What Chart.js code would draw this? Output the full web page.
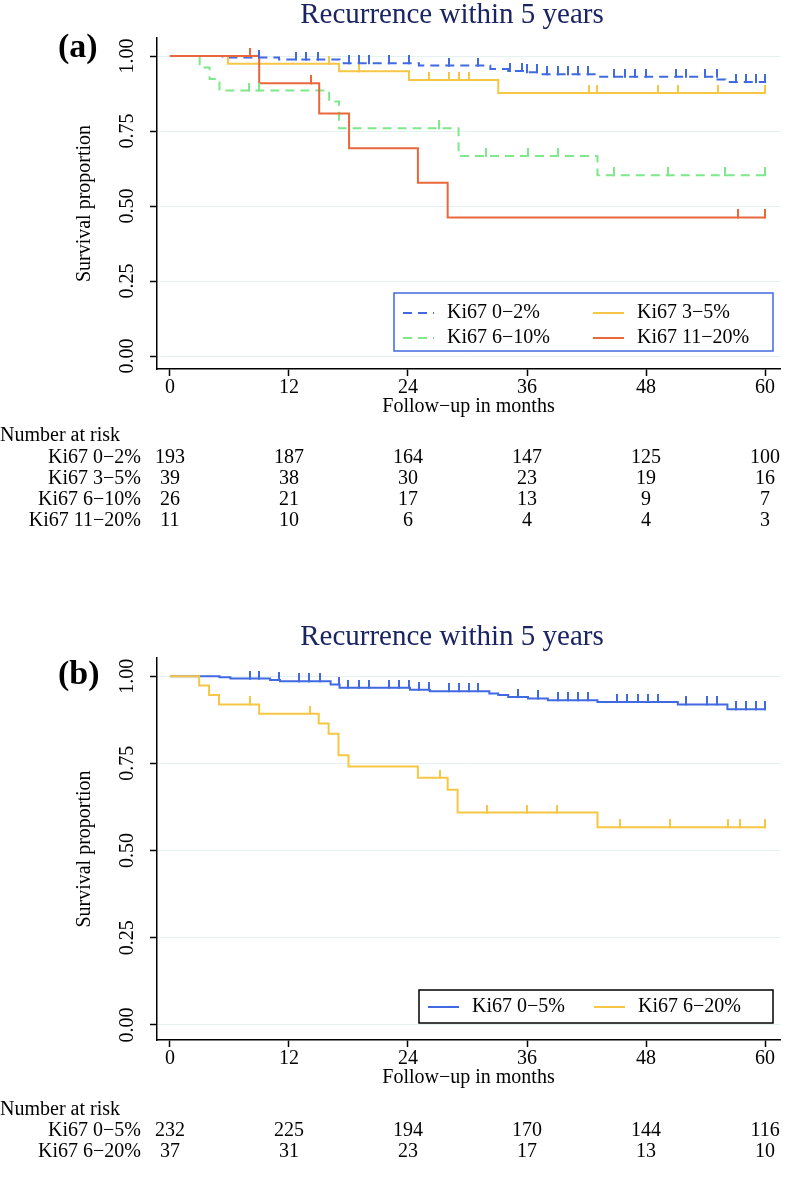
<!DOCTYPE html>
<html>
<head>
<meta charset="utf-8">
<script src="https://cdn.jsdelivr.net/npm/chart.js@4.4.1/dist/chart.umd.min.js"></script>
<style>
  html, body { margin: 0; padding: 0; background: #fff; }
  canvas { position: absolute; left: 0; }
  #chartA { top: 0; }
  #chartB { top: 590px; }
</style>
</head>
<body>
<canvas id="chartA" width="786" height="560"></canvas>
<canvas id="chartB" width="786" height="601"></canvas>
<script>
// ---------------------------------------------------------------
// datos (meses, supervivencia)
// ---------------------------------------------------------------
var xTicks = [0, 12, 24, 36, 48, 60];
var yTicks = [0, 0.25, 0.5, 0.75, 1];

// panel (a)
var a02Time = [0, 5.3, 11.0, 17.1, 25.1, 32.3, 34.1, 35.8, 37.3, 43.0, 55.2, 56.0, 60];
var a02Surv = [1, 0.995, 0.988, 0.976, 0.968, 0.957, 0.950, 0.946, 0.939, 0.931, 0.922, 0.913, 0.913];
var a02Cens = [9.0, 12.7, 13.7, 14.9, 18.1, 19.1, 20.1, 22.1, 24.1, 28.1, 31.1, 34.3, 35.5, 36.0, 37.0, 38.0,
               39.1, 40.1, 41.1, 42.1, 44.8, 45.9, 46.9, 48.0, 51.0, 52.0, 53.9, 55.1, 57.1, 58.1, 59.1, 60];

var a35Time = [0, 5.85, 17.05, 24.1, 33.1, 60];
var a35Surv = [1, 0.974, 0.949, 0.920, 0.877, 0.877];
var a35Cens = [16.0, 19.1, 26.1, 28.1, 29.1, 30.1, 42.2, 43.1, 49.2, 51.2, 55.3, 60];

var a610Time = [0, 3.0, 4.0, 5.0, 16.05, 17.05, 29.1, 43.1, 60];
var a610Surv = [1, 0.962, 0.923, 0.885, 0.848, 0.759, 0.667, 0.603, 0.603];
var a610Cens = [8.0, 9.0, 27.1, 31.9, 36.1, 39.1, 44.8, 50.2, 56.0, 60];

var a1120Time = [0, 9.0, 15.05, 18.06, 25.0, 28.0, 60];
var a1120Surv = [1, 0.909, 0.808, 0.693, 0.578, 0.462, 0.462];
var a1120Cens = [8.1, 14.2, 57.3, 60];

// panel (b)
var b05Time = [0, 5.0, 6.1, 10.1, 11.1, 16.2, 17.1, 24.2, 26.2, 32.2, 33.1, 34.1, 36.1, 38.1, 43.1, 51.2, 56.2, 60];
var b05Surv = [1, 0.997, 0.993, 0.989, 0.985, 0.976, 0.967, 0.961, 0.957, 0.950, 0.946, 0.940, 0.936, 0.931, 0.926, 0.919, 0.905, 0.905];
var b05Cens = [8.1, 9.0, 11.0, 13.0, 14.0, 15.1, 17.0, 18.0, 19.1, 20.1, 22.1, 23.1, 24.1, 25.1, 26.1, 28.1, 29.1,
               30.1, 31.1, 35.1, 37.1, 39.1, 40.1, 41.1, 42.1, 45.1, 46.1, 47.2, 48.2, 49.2, 52.0, 54.1, 55.1,
               57.1, 58.1, 59.1, 60];

var b620Time = [0, 2.95, 3.95, 4.95, 9.0, 15.0, 16.0, 17.0, 18.0, 25.0, 28.0, 29.0, 43.1, 60];
var b620Surv = [1, 0.973, 0.946, 0.919, 0.892, 0.864, 0.835, 0.773, 0.741, 0.709, 0.674, 0.609, 0.567, 0.567];
var b620Cens = [8.1, 14.1, 27.2, 32.0, 36.0, 39.0, 45.4, 50.4, 56.3, 57.5, 60];

// numero en riesgo
var riskA02 = [193, 187, 164, 147, 125, 100];
var riskA35 = [39, 38, 30, 23, 19, 16];
var riskA610 = [26, 21, 17, 13, 9, 7];
var riskA1120 = [11, 10, 6, 4, 4, 3];
var riskB05 = [232, 225, 194, 170, 144, 116];
var riskB620 = [37, 31, 23, 17, 13, 10];

// ---------------------------------------------------------------
// estilos
// ---------------------------------------------------------------
var SERIF = '"Liberation Serif", "Times New Roman", serif';
var font20 = { family: SERIF, size: 20 };
var AZUL = '#4169e1', AMARILLO = '#f6c744', VERDE = '#7ee88b', NARANJA = '#e8683b';
var NAVY = '#1b2463';
Chart.defaults.font.family = SERIF;

// marca de censura: tick vertical hacia arriba
function marcaCensura(color) {
  var c = document.createElement('canvas');
  c.width = 2; c.height = 16;
  var g = c.getContext('2d');
  g.fillStyle = color;
  g.fillRect(0, 0, 2, 9);
  return c;
}

function nivelEn(times, surv, t) {
  var v = surv[0];
  for (var i = 0; i < times.length; i++) if (times[i] <= t) v = surv[i];
  return v;
}

// orden: numero mas bajo se dibuja encima
function serieKM(label, times, surv, color, dash, orden) {
  return {
    label: label, order: orden,
    data: times.map(function (t, i) { return { x: t, y: surv[i] }; }),
    borderColor: color, borderWidth: 2, borderDash: dash || [],
    stepped: true, pointRadius: 0, fill: false
  };
}

function serieCensura(times, surv, cens, color) {
  return {
    label: '', esCensura: true, order: 0,
    data: cens.map(function (t) { return { x: t, y: nivelEn(times, surv, t) }; }),
    showLine: false, pointStyle: marcaCensura(color), pointRadius: 5, pointHoverRadius: 5
  };
}

// leyenda con recuadro dentro del area del grafico
function pluginLeyenda(cfg) {
  return {
    id: 'leyenda',
    afterDraw: function (chart) {
      var ctx = chart.ctx, area = chart.chartArea;
      var items = chart.data.datasets.filter(function (d) { return !d.esCensura; });
      var left = area.right - cfg.right - cfg.width, top = area.bottom - cfg.bottom - cfg.height;
      ctx.save();
      ctx.fillStyle = '#fff';
      ctx.fillRect(left, top, cfg.width, cfg.height);
      ctx.strokeStyle = cfg.border; ctx.lineWidth = 1.5;
      ctx.strokeRect(left, top, cfg.width, cfg.height);
      ctx.font = '20px ' + SERIF; ctx.textBaseline = 'middle'; ctx.textAlign = 'left';
      items.forEach(function (d, i) {
        var x = left + cfg.colX[i % 2], y = top + cfg.rowY[Math.floor(i / 2)];
        ctx.beginPath();
        ctx.strokeStyle = d.borderColor; ctx.lineWidth = 2;
        ctx.setLineDash(d.borderDash || []);
        ctx.moveTo(x, y); ctx.lineTo(x + 31, y); ctx.stroke();
        ctx.setLineDash([]);
        ctx.fillStyle = '#000';
        ctx.fillText(d.label, x + 44, y);
      });
      ctx.restore();
    }
  };
}

// titulo, letra del panel y tabla de numero en riesgo
function pluginTabla(cfg) {
  return {
    id: 'tabla',
    afterDraw: function (chart) {
      var ctx = chart.ctx, area = chart.chartArea, xs = chart.scales.x;
      ctx.save();
      ctx.textBaseline = 'middle';
      ctx.fillStyle = NAVY; ctx.font = '29px ' + SERIF; ctx.textAlign = 'center';
      ctx.fillText('Recurrence within 5 years', 452, cfg.titleY);
      ctx.fillStyle = '#000'; ctx.font = 'bold 34px ' + SERIF; ctx.textAlign = 'left';
      ctx.fillText(cfg.letter, 58, cfg.letterY);

      ctx.font = '20px ' + SERIF;
      var y0 = area.bottom + cfg.top;
      ctx.textAlign = 'left';
      ctx.fillText('Number at risk', 0, y0);
      cfg.rows.forEach(function (r, i) {
        var y = y0 + cfg.step * (i + 1);
        ctx.textAlign = 'right';
        ctx.fillText(r[0], 141, y);
        ctx.textAlign = 'center';
        xTicks.forEach(function (t, j) { ctx.fillText(String(r[1][j]), xs.getPixelForValue(t), y); });
      });
      ctx.restore();
    }
  };
}

function opcionesEjes(yMax) {
  return {
    x: {
      type: 'linear', min: -1.3, max: 61.5,
      afterBuildTicks: function (s) { s.ticks = xTicks.map(function (v) { return { value: v }; }); },
      afterFit: function (s) { s.height = 56; },
      border: { color: '#000', width: 1.5 },
      grid: { drawOnChartArea: false, color: '#000', tickLength: 7, tickWidth: 1.5 },
      ticks: { font: font20, color: '#000', padding: 0, maxRotation: 0 },
      title: { display: true, text: 'Follow−up in months', font: font20, color: '#000', padding: { top: 0, bottom: 6 } }
    },
    y: {
      type: 'linear', min: -0.043, max: yMax,
      afterBuildTicks: function (s) { s.ticks = yTicks.map(function (v) { return { value: v }; }); },
      afterFit: function (s) { s.width = 157; },
      border: { color: '#000', width: 1.5 },
      grid: { color: '#e3f1f1', lineWidth: 1, tickColor: '#000', tickLength: 7, tickWidth: 1.5 },
      ticks: {
        font: font20, color: '#000', minRotation: 90, maxRotation: 90, crossAlign: 'center', padding: 5,
        callback: function (v) { return v.toFixed(2); }
      },
      title: { display: true, text: 'Survival proportion', font: font20, color: '#000', padding: { top: 73, bottom: 0 } }
    }
  };
}

// ---------------------------------------------------------------
// panel (a)
// ---------------------------------------------------------------
new Chart(document.getElementById('chartA'), {
  type: 'line',
  data: {
    datasets: [
      serieKM('Ki67 0−2%', a02Time, a02Surv, AZUL, [9, 6], 4),
      serieKM('Ki67 3−5%', a35Time, a35Surv, AMARILLO, [], 2),
      serieKM('Ki67 6−10%', a610Time, a610Surv, VERDE, [9, 6], 3),
      serieKM('Ki67 11−20%', a1120Time, a1120Surv, NARANJA, [], 1),
      serieCensura(a02Time, a02Surv, a02Cens, AZUL),
      serieCensura(a35Time, a35Surv, a35Cens, AMARILLO),
      serieCensura(a610Time, a610Surv, a610Cens, VERDE),
      serieCensura(a1120Time, a1120Surv, a1120Cens, NARANJA)
    ]
  },
  options: {
    responsive: false, animation: false,
    layout: { padding: { top: 38, left: 0, right: 3, bottom: 135 } },
    plugins: { legend: { display: false }, tooltip: { enabled: false } },
    scales: opcionesEjes(1.06)
  },
  plugins: [
    pluginLeyenda({ right: 7, bottom: 18, width: 379, height: 58, border: AZUL, colX: [9, 199], rowY: [20, 45] }),
    pluginTabla({
      titleY: 15, letter: '(a)', letterY: 48, top: 67, step: 21.3,
      rows: [['Ki67 0−2%', riskA02], ['Ki67 3−5%', riskA35], ['Ki67 6−10%', riskA610], ['Ki67 11−20%', riskA1120]]
    })
  ]
});

// ---------------------------------------------------------------
// panel (b)
// ---------------------------------------------------------------
new Chart(document.getElementById('chartB'), {
  type: 'line',
  data: {
    datasets: [
      serieKM('Ki67 0−5%', b05Time, b05Surv, AZUL, [], 2),
      serieKM('Ki67 6−20%', b620Time, b620Surv, AMARILLO, [], 1),
      serieCensura(b05Time, b05Surv, b05Cens, AZUL),
      serieCensura(b620Time, b620Surv, b620Cens, AMARILLO)
    ]
  },
  options: {
    responsive: false, animation: false,
    layout: { padding: { top: 68, left: 0, right: 3, bottom: 95 } },
    plugins: { legend: { display: false }, tooltip: { enabled: false } },
    scales: opcionesEjes(1.052)
  },
  plugins: [
    pluginLeyenda({ right: 7, bottom: 17, width: 354, height: 33, border: '#000', colX: [9, 175], rowY: [17] }),
    pluginTabla({
      titleY: 47, letter: '(b)', letterY: 85, top: 70, step: 21,
      rows: [['Ki67 0−5%', riskB05], ['Ki67 6−20%', riskB620]]
    })
  ]
});
</script>
</body>
</html>
